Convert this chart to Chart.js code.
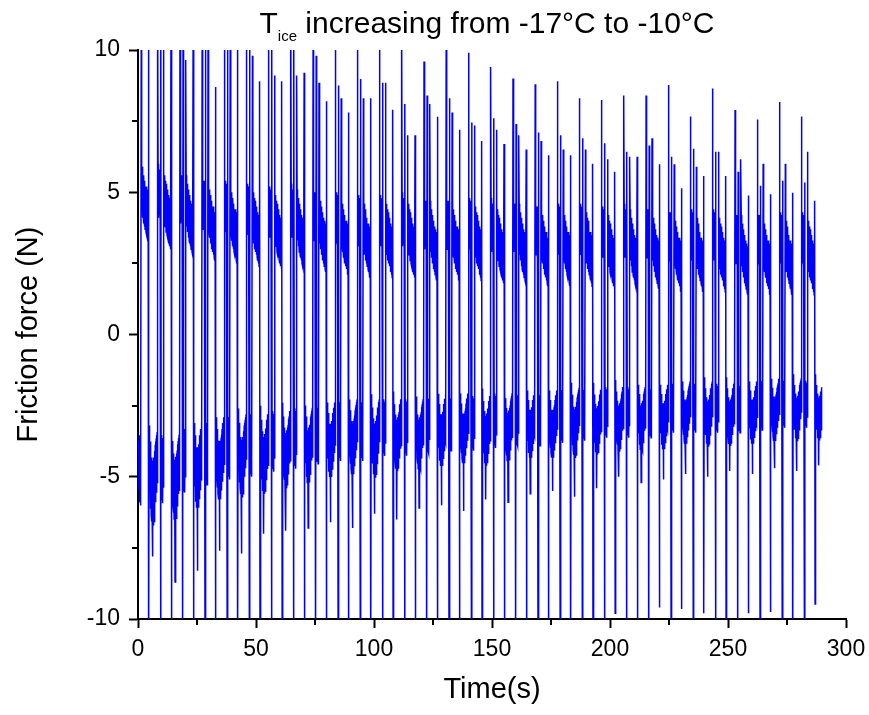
<!DOCTYPE html>
<html>
<head>
<meta charset="utf-8">
<script src="https://cdn.jsdelivr.net/npm/chart.js@4.4.1/dist/chart.umd.min.js"></script>
<style>
html,body{margin:0;padding:0;background:#fff;}
#wrap{position:relative;width:869px;height:715px;overflow:hidden;}
#chart{position:absolute;left:0;top:0;}
#title{position:absolute;left:133px;width:708px;top:5px;text-align:center;font-family:"Liberation Sans",Arial,sans-serif;font-size:30px;line-height:36px;color:#000;white-space:nowrap;}
#title .sub{font-size:15px;position:relative;top:8px;}
</style>
</head>
<body>
<div id="wrap">
<canvas id="chart" width="869" height="715"></canvas>
<div id="title">T<span class="sub">ice</span> increasing from -17°C to -10°C</div>
</div>
<script>
// ---- data (one entry per reciprocating cycle) ----
const cycleStart = [-1.1, 8.4, 17.8, 27.2, 36.6, 46.0, 55.4, 64.8, 74.2, 83.6, 93.0, 102.4, 111.8, 121.2, 130.6, 140.1, 149.5, 158.9, 168.3, 177.7, 187.1, 196.5, 205.9, 215.3, 224.7, 234.1, 243.5, 253.0, 262.4, 271.8, 281.2];
const peakA = [12, 12, 12, 12, 12, 12, 12, 12, 11, 11, 11, 11, 11, 9.6, 11, 9.9, 9.4, 9.0, 8.8, 8.9, 8.3, 8.24, 8.4, 8.4, 8.77, 7.66, 8.65, 7.89, 7.56, 8.17, 7.66];
const peakB = [12, 12, 12, 12, 12, 12, 12, 12, 9.8, 8.75, 8.98, 8.85, 8.1, 8.4, 8.3, 7.45, 7.6, 7.4, 7.1, 7.0, 6.9, 6.72, 6.42, 6.64, 6.25, 6.53, 6.42, 5.72, 5.23, 5.4, 5.34];
const peakC = [12, 11, 9.65, 12, 12, 9.8, 9.1, 9.1, 8.85, 8.3, 8.3, 8.85, 7.0, 8.1, 7.8, 7.35, 7.2, 7.0, 6.8, 6.5, 6.5, 6.16, 6.25, 6.9, 5.98, 5.9, 6.42, 6.16, 6.0, 6.0, 6.42];
const peakD = [12, 12, 12, 8.7, 12, 8.9, 8.9, 9.2, 8.2, 7.8, 8.3, 7.9, 7.0, 7.65, 7.2, 6.8, 6.7, 6.5, 6.3, 6.3, 6.0, 5.72, 6.25, 5.98, 5.14, 5.57, 5.57, 4.89, 4.93, 4.98, 4.7];
const botA = [-11, -11, -11, -11, -11, -11, -11, -11, -11, -11, -11, -11, -11, -11, -11, -11, -11, -11, -11, -11, -11, -11, -11, -11, -11, -11, -11, -11, -11, -11, -11];
const botB = [-11, -11, -11, -11, -11, -11, -11, -11, -11, -11, -11, -11, -11, -11, -11, -11, -11, -11, -11, -11, -11, -9.8, -11, -9.6, -9.65, -9.8, -11, -9.8, -9.75, -11, -9.47];
const posBase = [3.3, 3.0, 2.8, 2.6, 2.5, 2.4, 2.3, 2.3, 2.2, 2.1, 2.0, 2.0, 2.0, 1.9, 1.9, 1.9, 1.8, 1.8, 1.7, 1.7, 1.7, 1.6, 1.6, 1.6, 1.5, 1.5, 1.5, 1.4, 1.4, 1.4, 1.4];
const negTop = [-3.2, -3.2, -2.9, -2.7, -2.6, -2.5, -2.4, -2.3, -2.2, -2.1, -2.1, -2.0, -2.0, -1.9, -1.9, -1.9, -1.8, -1.8, -1.8, -1.7, -1.7, -1.6, -1.6, -1.6, -1.5, -1.5, -1.5, -1.5, -1.4, -1.4, -1.4];
const negDepth = [3.6, 3.5, 3.4, 3.3, 3.2, 3.2, 3.1, 3.1, 3.0, 3.0, 3.0, 2.9, 2.9, 2.9, 2.8, 2.8, 2.8, 2.7, 2.7, 2.7, 2.6, 2.6, 2.6, 2.6, 2.5, 2.5, 2.5, 2.5, 2.5, 2.4, 2.4];
const negSpike = [-7.8, -8.7, -8.3, -7.6, -7.7, -7.0, -6.9, -6.8, -6.6, -6.8, -6.3, -6.5, -6.1, -6.0, -6.2, -5.8, -5.9, -5.6, -5.5, -5.7, -5.4, -5.0, -5.2, -5.1, -4.9, -5.0, -4.8, -4.9, -4.7, -4.8, -4.6];
// ripple of the plateaus (offsets read from a representative cycle)
const posRippleA = [3.0, 1.3, 2.9, 1.1, 2.8, 1.4, 2.7, 1.2, 2.8, 1.0];
const posRipple = [2.8, 1.0, 2.6, 1.1, 2.5, 0.8, 2.4, 0.9, 2.2, 0.6, 2.3, 0.7, 2.0, 0.5, 2.1, 0.4, 1.9, 0.5, 1.8, 0.3, 1.9, 0.2, 1.7, 0.3, 1.8, 0.1, 1.6, 0.0, 1.7, 0.2];
const negRippleB = [-0.5, -2.0, -0.3, -2.4, -0.6, -2.2, -0.4, -2.5, -0.7, -2.0];
const negRipple = [0.0, -1.6, -0.2, -2.0, -0.5, -2.3, -0.6, -2.6, -0.9, -2.8, -1.0, -3.0, -1.2, -2.9, -1.1, -3.2, -1.3, -3.1, -1.0, -2.9, -1.2, -3.0, -0.9, -2.7, -0.8, -2.6, -0.6, -2.4, -0.5, -2.2, -0.4, -2.0, -0.3, -2.1, -0.2, -1.8];
const endTime = 289.7;
const xTicks = [0, 50, 100, 150, 200, 250, 300];
const xMinorTicks = [25, 75, 125, 175, 225, 275];
const yTicks = [-10, -5, 0, 5, 10];
const yMinorTicks = [-7.5, -2.5, 2.5, 7.5];

// ---- build the series table from the arrays above ----
const points = [];
function add(t, v) { if (t >= 0.2 && t <= endTime) points.push({x: t, y: v}); }
for (let c = 0; c < cycleStart.length; c++) {
  const t0 = cycleStart[c];
  add(t0, peakA[c]);
  posRippleA.forEach((r, i) => add(t0 + 0.1 + i * 0.1, posBase[c] + r));
  add(t0 + 1.2, botA[c]);
  add(t0 + 1.3, peakB[c]);
  negRippleB.forEach((r, i) => add(t0 + 1.4 + i * 0.1, negTop[c] + r * negDepth[c] / 3.2));
  add(t0 + 2.5, peakC[c]);
  posRipple.forEach((r, i) => add(t0 + 2.6 + i * 0.1, posBase[c] + r));
  add(t0 + 5.6, peakD[c]);
  add(t0 + 5.7, botB[c]);
  negRipple.forEach((r, i) => add(t0 + 5.8 + i * 0.1, i === 15 ? negSpike[c] : negTop[c] + r * negDepth[c] / 3.2));
}

const minorTickPlugin = {
  id: 'minorTicks',
  afterDraw(chart) {
    const {ctx, chartArea, scales} = chart;
    ctx.save();
    ctx.strokeStyle = '#000';
    ctx.lineWidth = 2;
    xMinorTicks.forEach(v => {
      const px = Math.round(scales.x.getPixelForValue(v));
      ctx.beginPath(); ctx.moveTo(px, chartArea.bottom); ctx.lineTo(px, chartArea.bottom + 6); ctx.stroke();
    });
    yMinorTicks.forEach(v => {
      const py = Math.round(scales.y.getPixelForValue(v));
      ctx.beginPath(); ctx.moveTo(chartArea.left, py); ctx.lineTo(chartArea.left - 6, py); ctx.stroke();
    });
    ctx.restore();
  }
};

const fontFam = '"Liberation Sans", Arial, sans-serif';
new Chart(document.getElementById('chart'), {
  type: 'line',
  data: {
    datasets: [{
      data: points,
      borderColor: '#0000FF',
      borderWidth: 1.5,
      pointRadius: 0,
      tension: 0,
      fill: false
    }]
  },
  options: {
    responsive: false,
    animation: false,
    devicePixelRatio: 1,
    layout: {padding: {top: 50, right: 23, bottom: 0, left: 0}},
    plugins: {legend: {display: false}, tooltip: {enabled: false}},
    scales: {
      x: {
        type: 'linear', min: 0, max: 300, z: 1,
        afterBuildTicks: s => { s.ticks = xTicks.map(v => ({value: v})); },
        ticks: {color: '#000', font: {family: fontFam, size: 23}, padding: 8, maxRotation: 0, autoSkip: false},
        grid: {display: true, drawOnChartArea: false, drawTicks: true, tickLength: 9, tickWidth: 2, tickColor: '#000', color: '#000'},
        border: {display: true, color: '#000', width: 2},
        title: {display: true, text: 'Time(s)', color: '#000', font: {family: fontFam, size: 29}, padding: {top: 0, bottom: 8}},
        afterFit: s => { s.height = 96; s.paddingRight = 0; s.paddingLeft = 0; }
      },
      y: {
        type: 'linear', min: -10, max: 10, z: 1,
        afterBuildTicks: s => { s.ticks = yTicks.map(v => ({value: v})); },
        ticks: {color: '#000', font: {family: fontFam, size: 23}, padding: 9, autoSkip: false},
        grid: {display: true, drawOnChartArea: false, drawTicks: true, tickLength: 9, tickWidth: 2, tickColor: '#000', color: '#000'},
        border: {display: true, color: '#000', width: 2},
        title: {display: true, text: 'Friction force (N)', color: '#000', font: {family: fontFam, size: 29}, padding: {top: 12, bottom: 0}},
        afterFit: s => { s.width = 138; s.paddingTop = 0; s.paddingBottom = 0; }
      }
    }
  },
  plugins: [minorTickPlugin]
});
</script>
</body>
</html>
